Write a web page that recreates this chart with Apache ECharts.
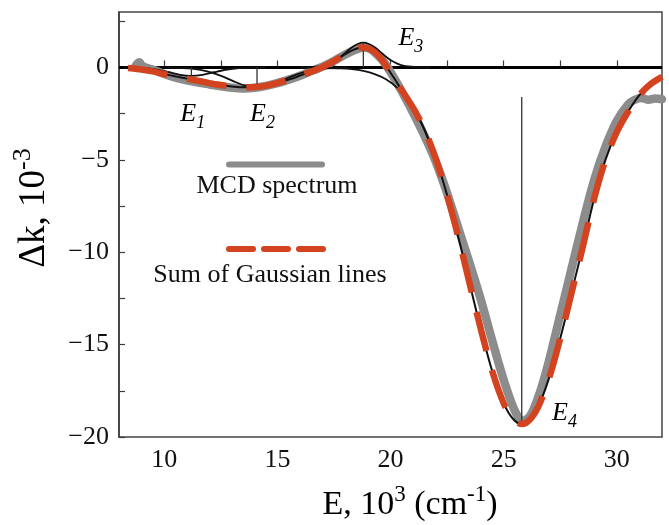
<!DOCTYPE html>
<html>
<head>
<meta charset="utf-8">
<script src="https://cdn.jsdelivr.net/npm/echarts@6/dist/echarts.min.js"></script>
<style>
html,body{margin:0;padding:0;background:#fff;}
#chart{width:669px;height:525px;}
</style>
</head>
<body>
<div id="chart"></div>
<script>
// ---- tick values / labels ----
const xLabelValues = [10, 15, 20, 25, 30];
const xTickValues = [10, 12.5, 15, 17.5, 20, 22.5, 25, 27.5, 30];
const yLabelValues = [0, -5, -10, -15, -20];
const yTickValues = [2.5, 0, -2.5, -5, -7.5, -10, -12.5, -15, -17.5, -20];

// ---- measured MCD spectrum (grey) ----
const mcdSpectrum = [[8.7,0.0],[8.8,0.2],[8.9,0.28],[9.0,0.12],[9.2,-0.02],[9.5,-0.12],[10.0,-0.35],[10.5,-0.55],[11.0,-0.7],[11.5,-0.82],[12.0,-0.92],[12.5,-1.02],[13.0,-1.1],[13.5,-1.14],[14.0,-1.1],[14.5,-1.0],[15.0,-0.85],[15.5,-0.66],[16.0,-0.45],[16.5,-0.2],[17.0,0.05],[17.5,0.35],[18.0,0.7],[18.5,0.98],[18.8,1.08],[19.1,1.0],[19.4,0.7],[19.7,0.3],[20.0,-0.25],[20.5,-1.3],[21.0,-2.45],[21.5,-3.7],[22.0,-5.1],[22.5,-6.8],[23.0,-8.7],[23.5,-10.6],[24.0,-12.6],[24.5,-14.8],[25.0,-16.9],[25.5,-18.6],[25.85,-19.15],[26.2,-18.8],[26.6,-17.6],[27.0,-15.9],[27.5,-13.4],[28.0,-10.9],[28.5,-8.4],[29.0,-6.1],[29.5,-4.3],[30.0,-2.9],[30.5,-2.0],[30.8,-1.75],[31.1,-1.65],[31.4,-1.75],[31.7,-1.68],[32.0,-1.72]];

// ---- sum of Gaussian lines ----
const gaussSum = [[8.4,-0.03],[8.8,-0.08],[9.2,-0.15],[9.6,-0.24],[10.0,-0.36],[10.4,-0.46],[10.8,-0.56],[11.2,-0.65],[11.6,-0.75],[12.0,-0.85],[12.4,-0.94],[12.9,-1.02],[13.4,-1.07],[13.9,-1.07],[14.4,-1.01],[14.9,-0.88],[15.4,-0.7],[15.9,-0.49],[16.4,-0.27],[16.9,-0.03],[17.4,0.27],[17.9,0.64],[18.3,0.92],[18.7,1.08],[19.0,1.05],[19.3,0.83],[19.6,0.45],[19.9,-0.1],[20.2,-0.65],[20.5,-1.25],[20.8,-1.8],[21.1,-2.4],[21.5,-3.36],[22.0,-4.93],[22.5,-6.9],[23.0,-9.2],[23.5,-11.7],[24.0,-14.2],[24.5,-16.45],[25.0,-18.17],[25.4,-19.0],[25.8,-19.3],[26.2,-19.0],[26.6,-18.17],[27.1,-16.45],[27.6,-14.2],[28.1,-11.7],[28.5,-9.7],[29.0,-7.1],[29.5,-5.0],[30.0,-3.5],[30.5,-2.4],[31.0,-1.5],[31.5,-0.9],[32.0,-0.51]];

// ---- individual Gaussian components ----
const gaussE1 = [[8.2,0],[8.7,-0.012],[9.2,-0.045],[9.7,-0.125],[10.2,-0.26],[10.7,-0.4],[11.2,-0.46],[11.7,-0.4],[12.2,-0.26],[12.7,-0.125],[13.2,-0.045],[13.7,-0.012],[14.5,0]];
const gaussE2 = [[10.1,0],[10.6,-0.017],[11.1,-0.05],[11.6,-0.13],[12.1,-0.28],[12.6,-0.5],[13.1,-0.77],[13.6,-0.99],[14.1,-1.08],[14.6,-0.99],[15.1,-0.77],[15.6,-0.5],[16.1,-0.28],[16.6,-0.13],[17.1,-0.05],[17.6,-0.017],[18.1,0]];
const gaussE3 = [[16.3,0],[16.8,0.05],[17.05,0.10],[17.3,0.21],[17.55,0.36],[17.8,0.58],[18.05,0.84],[18.3,1.09],[18.55,1.27],[18.8,1.34],[19.05,1.27],[19.3,1.09],[19.55,0.84],[19.8,0.58],[20.05,0.36],[20.3,0.21],[20.55,0.10],[20.8,0.05],[21.3,0.007],[21.8,0]];
const gaussE4 = [[16.0,0],[17.0,-0.02],[17.8,-0.05],[18.3,-0.095],[18.8,-0.19],[19.3,-0.36],[19.8,-0.64],[20.3,-1.11],[20.8,-1.82],[21.3,-2.85],[21.8,-4.25]];

// ---- band positions (vertical marker lines) ----
const markE1 = [[11.2,0],[11.2,-0.46]];
const markE2 = [[14.1,0],[14.1,-1.08]];
const markE3 = [[18.8,0],[18.8,1.34]];
const markE4 = [[25.8,-1.6],[25.8,-19.3]];
const zeroLine = [[8,0],[32,0]];

// ---- band labels: [x, y, index] ----
const bandLabels = [[11.26,-3.0,'1'],[14.34,-3.0,'2'],[20.9,1.08,'3'],[27.69,-19.2,'4']];

const SERIF = '"Liberation Serif","Times New Roman",serif';
const AXIS = '#3c3c3c';
const INK = '#111';

const chart = echarts.init(document.getElementById('chart'), null, {renderer:'canvas'});

function blackLine(data, w, z){
  return {type:'line', data:data, showSymbol:false, symbol:'none', smooth:0.3, z:z||3,
    lineStyle:{color:INK, width:w||1.8}, silent:true};
}
function marker(data){
  return {type:'line', data:data, showSymbol:false, symbol:'none', z:3,
    lineStyle:{color:'#333', width:1.3}, silent:true};
}

const xTitleRich = {
  a:{fontFamily:SERIF, fontSize:34, color:INK, lineHeight:44},
  s:{fontFamily:SERIF, fontSize:23, color:INK, lineHeight:26, verticalAlign:'top'}
};
const yTitleRich = {
  a:{fontFamily:SERIF, fontSize:37, color:INK, lineHeight:48},
  s:{fontFamily:SERIF, fontSize:26, color:INK, lineHeight:28, verticalAlign:'top'}
};

const option = {
  animation:false,
  backgroundColor:'#fff',
  grid:{left:119, top:12, width:543, height:425, show:true, borderColor:'#444', borderWidth:1.5, backgroundColor:'transparent'},
  xAxis:{type:'value', min:8, max:32,
    axisLine:{show:true, lineStyle:{color:AXIS, width:1.5}},
    axisTick:{show:true, inside:true, length:7, customValues:xTickValues, lineStyle:{color:AXIS, width:1.2}},
    axisLabel:{customValues:xLabelValues, fontFamily:SERIF, fontSize:26, color:INK, margin:10},
    splitLine:{show:false}},
  yAxis:{type:'value', min:-20, max:3,
    axisLine:{show:true, lineStyle:{color:AXIS, width:1.5}},
    axisTick:{show:true, inside:true, length:6, customValues:yTickValues, lineStyle:{color:AXIS, width:1.2}},
    axisLabel:{customValues:yLabelValues, fontFamily:SERIF, fontSize:26, color:INK, margin:10,
      formatter:function(v){return v<0 ? '\u2212'+(-v) : String(v);}},
    splitLine:{show:false}},
  series:[
    {type:'line', data:zeroLine, showSymbol:false, symbol:'none', z:1, lineStyle:{color:'#000', width:3}, silent:true},
    {type:'line', data:mcdSpectrum, showSymbol:false, symbol:'none', smooth:0.3, z:2,
      lineStyle:{color:'#8c8c8c', width:8.5, cap:'round', join:'round'}, silent:true},
    blackLine(gaussE1),
    blackLine(gaussE2),
    blackLine(gaussE3),
    blackLine(gaussE4),
    blackLine(gaussSum, 2),
    marker(markE1), marker(markE2), marker(markE3), marker(markE4),
    {type:'line', data:gaussSum, showSymbol:false, symbol:'none', smooth:0.3, z:5,
      lineStyle:{color:'#d4431f', width:6.5, type:[40,20], cap:'butt'}, silent:true},
    {type:'scatter', data:bandLabels, symbolSize:1, z:6, itemStyle:{color:'rgba(0,0,0,0)'}, silent:true,
      label:{show:true, position:'inside', color:'#000', opacity:1,
        formatter:function(p){return '{e|E}{s|'+p.data[2]+'}';},
        rich:{
          e:{fontFamily:SERIF, fontStyle:'italic', fontSize:26, color:'#000', lineHeight:26, verticalAlign:'top',
             textBorderWidth:0},
          s:{fontFamily:SERIF, fontStyle:'italic', fontSize:18, color:'#000', lineHeight:44,
             textBorderWidth:0}
        }}}
  ],
  graphic:[
    {type:'line', shape:{x1:229, y1:164.5, x2:322, y2:164.5}, style:{stroke:'#8c8c8c', lineWidth:6, lineCap:'round'}},
    {type:'text', x:277, y:186, style:{text:'MCD spectrum', font:'26px "Liberation Serif"', fill:INK,
      textAlign:'center', align:'center', textVerticalAlign:'middle', verticalAlign:'middle'}},
    {type:'line', shape:{x1:229, y1:249, x2:323, y2:249}, style:{stroke:'#d4431f', lineWidth:6, lineCap:'round', lineDash:[24,11]}},
    {type:'text', x:270, y:275, style:{text:'Sum of Gaussian lines', font:'26px "Liberation Serif"', fill:INK,
      textAlign:'center', align:'center', textVerticalAlign:'middle', verticalAlign:'middle'}},
    {type:'text', x:410, y:505, style:{
      text:'{a|E, 10}{s|3}{a| (cm}{s|-1}{a|)}', rich:xTitleRich,
      textAlign:'center', align:'center', textVerticalAlign:'middle', verticalAlign:'middle'}},
    {type:'text', x:34, y:208, rotation:Math.PI/2, style:{
      text:'{a|\u0394k, 10}{s|-3}', rich:yTitleRich,
      textAlign:'center', align:'center', textVerticalAlign:'middle', verticalAlign:'middle'}}
  ]
};
chart.setOption(option);
</script>
</body>
</html>
